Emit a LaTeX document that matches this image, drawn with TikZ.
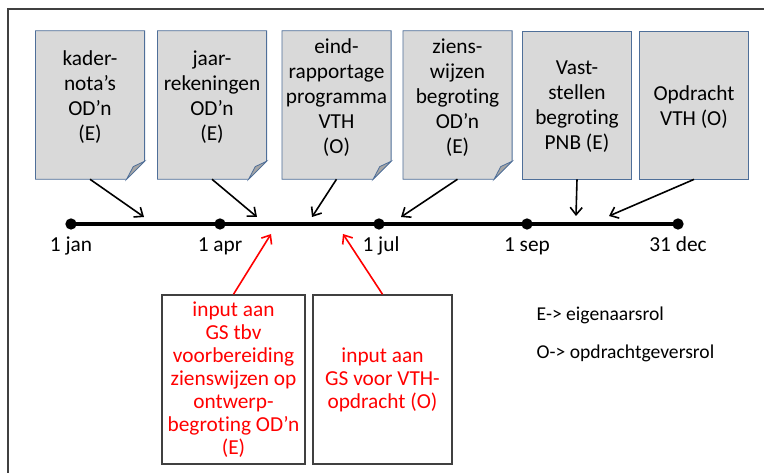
\documentclass[tikz,border=0pt]{standalone}
\usepackage{fontspec}
\setmainfont{Carlito}[Ligatures=NoCommon]
\usetikzlibrary{arrows.meta,calc}

\definecolor{docgray}{HTML}{D9D9D9}
\definecolor{foldgray}{HTML}{A6A6A6}
\definecolor{docedge}{HTML}{4F6F99}
\definecolor{frameedge}{HTML}{404040}

\tikzset{
  docbox/.style={draw=docedge, fill=docgray, line width=0.6pt, minimum width=81.5pt, minimum height=111pt, inner sep=0pt},
  foldframe/.style={minimum width=81.5pt, minimum height=111pt, inner sep=0pt},
  doctext/.style={align=center, inner sep=0pt, font=\fontsize{16}{18.75}\selectfont},
  inbox/.style={draw=frameedge, line width=1.1pt, text=red, align=center, inner sep=0pt, minimum height=126.75pt, font=\fontsize{16}{17.25}\selectfont},
  tdot/.style={circle, fill=black, inner sep=0pt, minimum size=8.5pt},
  tlabel/.style={anchor=base, inner sep=0pt, font=\fontsize{16}{19}\selectfont},
  legend/.style={anchor=west, font=\fontsize{14.7}{17}\selectfont},
  blackarrow/.style={-{Straight Barb[length=5.5pt,width=9pt]}, line width=1.2pt},
  redarrow/.style={blackarrow, red}
}

% document shape with folded corner
\newcommand{\foldbox}[1]{%
  \filldraw[draw=docedge, fill=docgray, line width=0.6pt]
    (#1.north west) -- (#1.north east) -- ([yshift=13.5pt]#1.south east)
    -- ([xshift=-13.5pt]#1.south east) -- (#1.south west) -- cycle;
  \filldraw[draw=docedge, fill=foldgray, line width=0.6pt]
    ([yshift=13.5pt]#1.south east) -- ([xshift=-13.5pt]#1.south east)
    -- ([xshift=-8.5pt,yshift=9.5pt]#1.south east) -- cycle;
}

\begin{document}
\begin{tikzpicture}[x=0.75pt,y=-0.75pt]
  \useasboundingbox (0,0) rectangle (764,473);

  % outer frame
  \draw[frameedge, line width=1.5pt] (8,473) -- (8,9) -- (764,9);

  % documents on top
  \node[foldframe] (kader) at (90,105) {};
  \foldbox{kader}
  \node[doctext] (kaderT) at (90,97.5) {kader-\\nota’s\\OD’n\\(E)};

  \node[foldframe] (jaar) at (212,105) {};
  \foldbox{jaar}
  \node[doctext] (jaarT) at (212,97.5) {jaar-\\rekeningen\\OD’n\\(E)};

  \node[foldframe] (eind) at (336.5,105) {};
  \foldbox{eind}
  \node[doctext] (eindT) at (336.5,97.5) {eind-\\rapportage\\programma\\VTH\\(O)};

  \node[foldframe] (ziens) at (457.5,105) {};
  \foldbox{ziens}
  \node[doctext] (zienT) at (457.5,97.5) {ziens-\\wijzen\\begroting\\OD’n\\(E)};

  \node[docbox] (vast) at (577,105) {};
  \node[doctext] (vastT) at (577,106.5) {Vast-\\stellen\\begroting\\PNB (E)};

  \node[docbox] (opdr) at (694,105) {};
  \node[doctext] (opdrT) at (694,107) {Opdracht\\VTH (O)};

  % timeline
  \node[tdot] (jan) at (71,224) {};
  \node[tdot] (apr) at (220,224) {};
  \node[tdot] (jul) at (379,224) {};
  \node[tdot] (sep) at (527,224) {};
  \node[tdot] (dec) at (678,224) {};
  \draw[line width=3pt] (jan.center) -- (dec.center);

  \node[tlabel] (janL) at (71,252) {1 jan};
  \node[tlabel] (aprL) at (220,252) {1 apr};
  \node[tlabel] (julL) at (381,252) {1 jul};
  \node[tlabel] (sepL) at (527,252) {1 sep};
  \node[tlabel] (decL) at (678,252) {31 dec};

  % arrow ends on the line
  \coordinate (t1) at (144,217);
  \coordinate (t2) at (257,217);
  \coordinate (t3) at (312,217);
  \coordinate (t4) at (401,217);
  \coordinate (t5) at (576,216);
  \coordinate (t6) at (609,216);
  \coordinate (r1) at (271,234);
  \coordinate (r2) at (343,234);

  \draw[blackarrow] (kader.south) -- (t1);
  \draw[blackarrow] (jaar.south) -- (t2);
  \draw[blackarrow] (eind.south) -- (t3);
  \draw[blackarrow] (ziens.south) -- (t4);
  \draw[blackarrow] (vast.south) -- (t5);
  \draw[blackarrow] (opdr.south) -- (t6);

  % input boxes
  \node[inbox, minimum width=107.25pt] (inputA) at (233.5,379.5)
    {input aan\\GS tbv\\voorbereiding\\zienswijzen op\\ontwerp-\\begroting OD’n\\(E)};
  \node[inbox, minimum width=104.25pt] (inputB) at (382.5,379.5)
    {input aan\\GS voor VTH-\\opdracht (O)};

  \draw[redarrow] (inputA.north) -- (r1);
  \draw[redarrow] (inputB.north) -- (r2);

  % legend
  \node[legend] (legE) at (532,315) {E-> eigenaarsrol};
  \node[legend] (legO) at (532,353) {O-> opdrachtgeversrol};
\end{tikzpicture}
\end{document}
